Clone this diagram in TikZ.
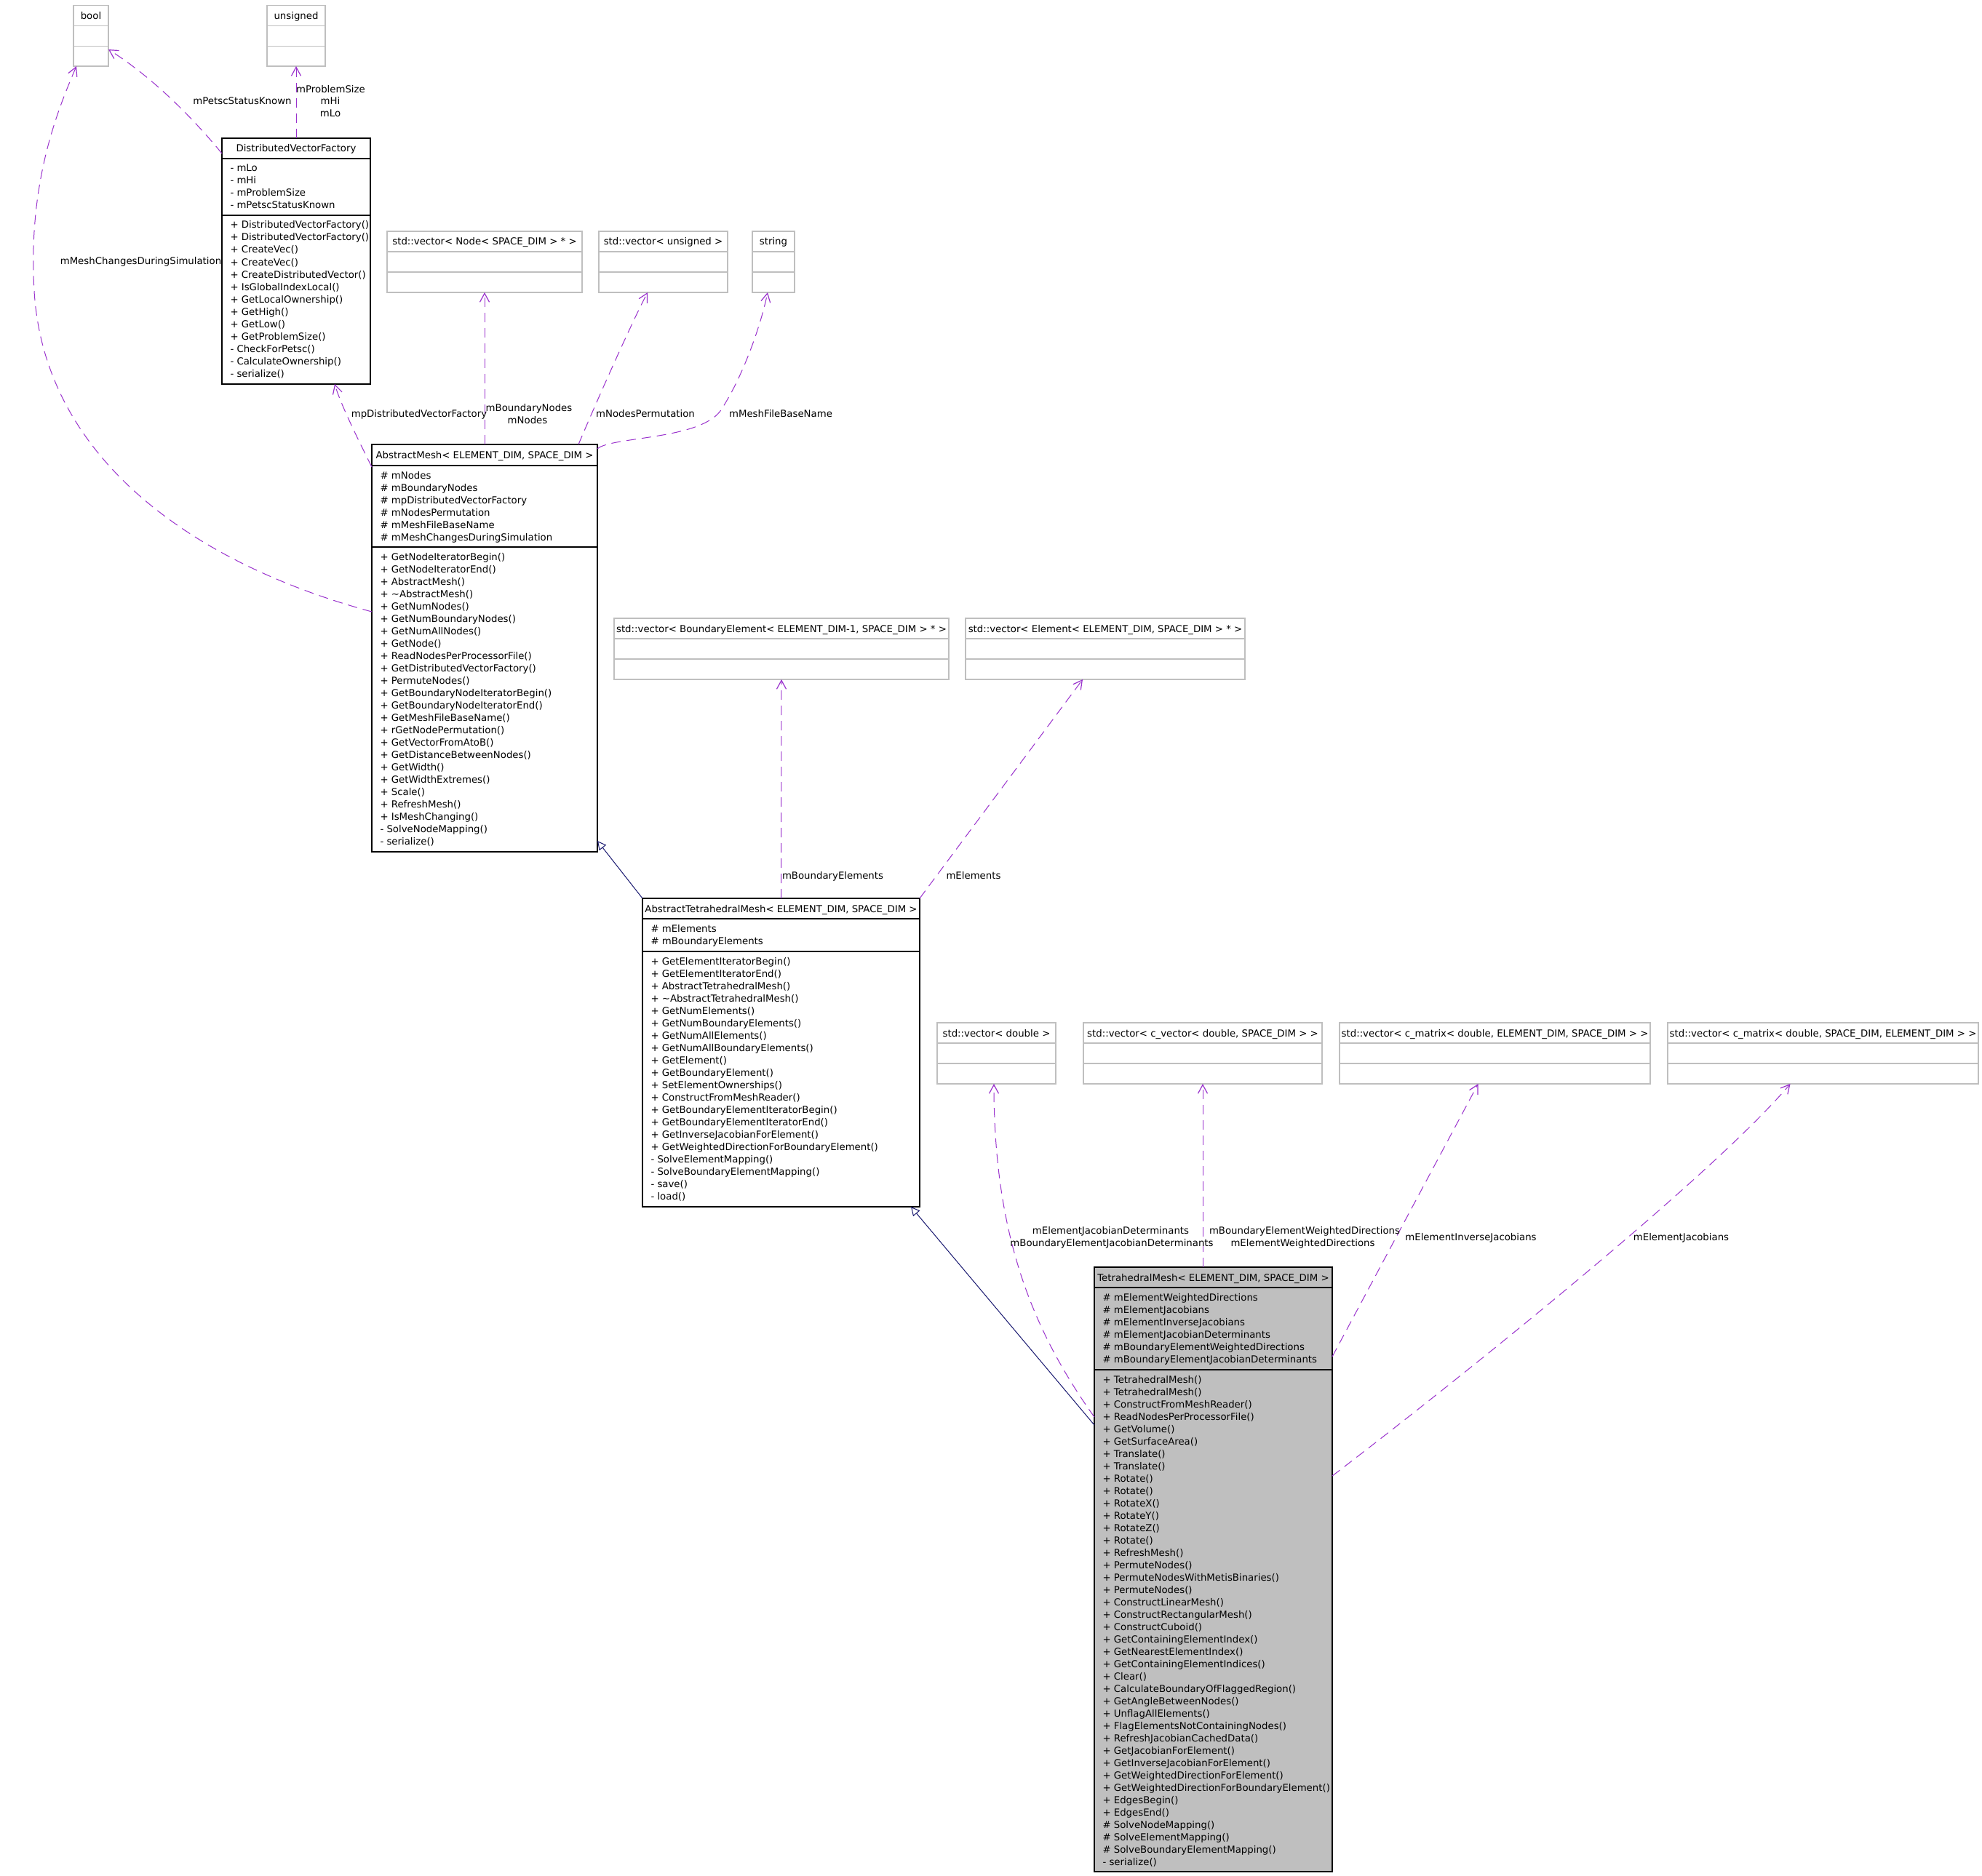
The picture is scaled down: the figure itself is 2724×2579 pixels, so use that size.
\documentclass[tikz,border=0pt]{standalone}
\usepackage{fontspec}
\setmainfont{DejaVu Sans}
\usetikzlibrary{arrows.meta,calc}
\definecolor{depc}{HTML}{9A32CD}
\definecolor{inhc}{HTML}{191970}
\definecolor{boxgray}{HTML}{BFBFBF}
\tikzset{
  lbl/.style={font=\fontsize{13.3}{17}\selectfont, inner sep=0pt, outer sep=0pt, text=black},
  clsbox/.style={draw=black, line width=1.5pt, fill=white, inner sep=0pt, outer sep=0pt},
  tmbox/.style={draw=black, line width=1.5pt, fill=boxgray, inner sep=0pt, outer sep=0pt},
  typebox/.style={draw=boxgray, line width=1.5pt, fill=white, inner sep=0pt, outer sep=0pt},
  dep/.style={draw=depc, line width=1pt, dash pattern=on 13pt off 8pt, -{Straight Barb[length=12pt,width=13pt,line width=1.2pt]}},
  inh/.style={draw=inhc, line width=1pt, -{Triangle[open,length=12pt,width=12pt,fill=white]}},
}
% name, style, x, y, w, h, divider1, divider2, title
\newcommand\mkclass[9]{%
  \node[#2, minimum width=#5pt, minimum height=#6pt, anchor=north west] (#1) at (#3,#4) {};
  \draw[#2] ([yshift=-#7pt]#1.north west) -- ([yshift=-#7pt]#1.north east);
  \draw[#2] ([yshift=-#8pt]#1.north west) -- ([yshift=-#8pt]#1.north east);
  \node[lbl, anchor=base] (#1t) at ([yshift=-19pt]#1.north) {#9};
}
% prefix, x, first baseline, list
\newcommand\mklines[4]{%
  \foreach \itemtext [count=\i] in {#4} {\node[lbl, anchor=base west] (#1\i) at (#2, #3+17*\i-17) {\itemtext};}
}
\begin{document}
\begin{tikzpicture}[x=1pt,y=-1pt]
\useasboundingbox (0,0) rectangle (2724,2579);
\fill[white] (0,0) rectangle (2724,2579);

% type boxes
\mkclass{bool}{typebox}{101}{7.5}{48}{83.5}{28}{56}{bool}
\mkclass{unsg}{typebox}{367}{7.5}{80}{83.5}{28}{56}{unsigned}
\mkclass{nv}{typebox}{532}{318}{268}{84}{28}{56}{std::vector< Node< SPACE\_DIM > * >}
\mkclass{uv}{typebox}{823}{318}{177}{84}{28}{56}{std::vector< unsigned >}
\mkclass{str}{typebox}{1034}{318}{58}{84}{28}{56}{string}
\mkclass{bev}{typebox}{844}{850}{460}{84}{28}{56}{std::vector< BoundaryElement< ELEMENT\_DIM-1, SPACE\_DIM > * >}
\mkclass{ev}{typebox}{1327}{850}{384}{84}{28}{56}{std::vector< Element< ELEMENT\_DIM, SPACE\_DIM > * >}
\mkclass{dv}{typebox}{1288}{1406}{163}{84}{28}{56}{std::vector< double >}
\mkclass{cv}{typebox}{1489}{1406}{328}{84}{28}{56}{std::vector< c\_vector< double, SPACE\_DIM > >}
\mkclass{cmA}{typebox}{1841}{1406}{427}{84}{28}{56}{std::vector< c\_matrix< double, ELEMENT\_DIM, SPACE\_DIM > >}
\mkclass{cmB}{typebox}{2292}{1406}{427}{84}{28}{56}{std::vector< c\_matrix< double, SPACE\_DIM, ELEMENT\_DIM > >}

% DistributedVectorFactory
\mkclass{dvf}{clsbox}{305}{190}{204}{338}{28}{106}{DistributedVectorFactory}
\mklines{dvfa}{316.5}{236}{- mLo, - mHi, - mProblemSize, - mPetscStatusKnown}
\mklines{dvfm}{316.5}{314}{+ DistributedVectorFactory(), + DistributedVectorFactory(), + CreateVec(), + CreateVec(), + CreateDistributedVector(), + IsGlobalIndexLocal(), + GetLocalOwnership(), + GetHigh(), + GetLow(), + GetProblemSize(), - CheckForPetsc(), - CalculateOwnership(), - serialize()}

% AbstractMesh
\mkclass{am}{clsbox}{511}{611}{310}{560}{29}{141}{AbstractMesh< ELEMENT\_DIM, SPACE\_DIM >}
\mklines{ama}{522.5}{658}{\# mNodes, \# mBoundaryNodes, \# mpDistributedVectorFactory, \# mNodesPermutation, \# mMeshFileBaseName, \# mMeshChangesDuringSimulation}
\mklines{amm}{522.5}{770}{+ GetNodeIteratorBegin(), + GetNodeIteratorEnd(), + AbstractMesh(), + \textasciitilde{}AbstractMesh(), + GetNumNodes(), + GetNumBoundaryNodes(), + GetNumAllNodes(), + GetNode(), + ReadNodesPerProcessorFile(), + GetDistributedVectorFactory(), + PermuteNodes(), + GetBoundaryNodeIteratorBegin(), + GetBoundaryNodeIteratorEnd(), + GetMeshFileBaseName(), + rGetNodePermutation(), + GetVectorFromAtoB(), + GetDistanceBetweenNodes(), + GetWidth(), + GetWidthExtremes(), + Scale(), + RefreshMesh(), + IsMeshChanging(), - SolveNodeMapping(), - serialize()}

% AbstractTetrahedralMesh
\mkclass{atm}{clsbox}{883}{1235}{381}{424}{28}{73}{AbstractTetrahedralMesh< ELEMENT\_DIM, SPACE\_DIM >}
\mklines{atma}{894.5}{1281}{\# mElements, \# mBoundaryElements}
\mklines{atmm}{894.5}{1326}{+ GetElementIteratorBegin(), + GetElementIteratorEnd(), + AbstractTetrahedralMesh(), + \textasciitilde{}AbstractTetrahedralMesh(), + GetNumElements(), + GetNumBoundaryElements(), + GetNumAllElements(), + GetNumAllBoundaryElements(), + GetElement(), + GetBoundaryElement(), + SetElementOwnerships(), + ConstructFromMeshReader(), + GetBoundaryElementIteratorBegin(), + GetBoundaryElementIteratorEnd(), + GetInverseJacobianForElement(), + GetWeightedDirectionForBoundaryElement(), - SolveElementMapping(), - SolveBoundaryElementMapping(), - save(), - load()}

% TetrahedralMesh
\mkclass{tm}{tmbox}{1504}{1742}{327}{831}{28}{141}{TetrahedralMesh< ELEMENT\_DIM, SPACE\_DIM >}
\mklines{tma}{1515.5}{1788}{\# mElementWeightedDirections, \# mElementJacobians, \# mElementInverseJacobians, \# mElementJacobianDeterminants, \# mBoundaryElementWeightedDirections, \# mBoundaryElementJacobianDeterminants}
\mklines{tmm}{1515.5}{1901}{+ TetrahedralMesh(), + TetrahedralMesh(), + ConstructFromMeshReader(), + ReadNodesPerProcessorFile(), + GetVolume(), + GetSurfaceArea(), + Translate(), + Translate(), + Rotate(), + Rotate(), + RotateX(), + RotateY(), + RotateZ(), + Rotate(), + RefreshMesh(), + PermuteNodes(), + PermuteNodesWithMetisBinaries(), + PermuteNodes(), + ConstructLinearMesh(), + ConstructRectangularMesh(), + ConstructCuboid(), + GetContainingElementIndex(), + GetNearestElementIndex(), + GetContainingElementIndices(), + Clear(), + CalculateBoundaryOfFlaggedRegion(), + GetAngleBetweenNodes(), + UnflagAllElements(), + FlagElementsNotContainingNodes(), + RefreshJacobianCachedData(), + GetJacobianForElement(), + GetInverseJacobianForElement(), + GetWeightedDirectionForElement(), + GetWeightedDirectionForBoundaryElement(), + EdgesBegin(), + EdgesEnd(), \# SolveNodeMapping(), \# SolveElementMapping(), \# SolveBoundaryElementMapping(), - serialize()}

% connectors
\draw[dep] ([yshift=-21pt]dvf.north west) .. controls (255,150) and (200,100) .. ([yshift=-18.75pt]bool.east);
\draw[dep] (dvf.north) -- (unsg.south);
\draw[dep] ([yshift=50pt]am.west) .. controls (250,770) and (60,620) .. (47,400) .. controls (38,250) and (80,150) .. ([xshift=-20pt]bool.south);
\draw[dep] ([yshift=-31pt]am.north west) .. controls (490,600) and (468,555) .. ([xshift=53pt]dvf.south);
\draw[dep] (am.north) -- (nv.south);
\draw[dep] ([xshift=-26pt]am.north east) .. controls (825,540) and (870,440) .. ([xshift=-21.5pt]uv.south);
\draw[dep] ([yshift=-6pt]am.north east) .. controls (840,600) and (960,605) .. (990,565) .. controls (1020,520) and (1045,450) .. ([xshift=-8pt]str.south);
\draw[inh] (atm.north west) -- ([yshift=15pt]am.south east);
\draw[dep] (atm.north) -- (bev.south);
\draw[dep] (atm.north east) -- ([xshift=-31pt]ev.south);
\draw[inh] ([yshift=198.5pt]tm.west) -- ([xshift=-12pt]atm.south east);
\draw[dep] ([yshift=209.5pt]tm.west) .. controls (1420,1830) and (1366,1700) .. ([xshift=-3.5pt]dv.south);
\draw[dep] (tm.north -| cv.south) -- (cv.south);
\draw[dep] ([yshift=292.5pt]tm.east) -- ([xshift=-23pt]cmA.south);
\draw[dep] ([yshift=128.5pt]tm.east) .. controls (2000,1900) and (2350,1620) .. ([xshift=-45pt]cmB.south);

% connector labels
\node[lbl, anchor=base] (l1) at (333,144) {mPetscStatusKnown};
\node[lbl, anchor=base] (l2a) at (454.5,127.5) {mProblemSize};
\node[lbl, anchor=base] (l2b) at (454,144) {mHi};
\node[lbl, anchor=base] (l2c) at (454,161) {mLo};
\node[lbl, anchor=base] (l3) at (193.5,363) {mMeshChangesDuringSimulation};
\node[lbl, anchor=base] (l4) at (576,573) {mpDistributedVectorFactory};
\node[lbl, anchor=base] (l5a) at (727,565) {mBoundaryNodes};
\node[lbl, anchor=base] (l5b) at (725,582) {mNodes};
\node[lbl, anchor=base] (l6) at (887,573) {mNodesPermutation};
\node[lbl, anchor=base] (l7) at (1073,573) {mMeshFileBaseName};
\node[lbl, anchor=base] (l9) at (1144.5,1208) {mBoundaryElements};
\node[lbl, anchor=base] (l10) at (1338,1208) {mElements};
\node[lbl, anchor=base] (l12a) at (1526.5,1696) {mElementJacobianDeterminants};
\node[lbl, anchor=base] (l12b) at (1528,1713) {mBoundaryElementJacobianDeterminants};
\node[lbl, anchor=base] (l13a) at (1793,1696) {mBoundaryElementWeightedDirections};
\node[lbl, anchor=base] (l13b) at (1790.5,1713) {mElementWeightedDirections};
\node[lbl, anchor=base] (l14) at (2021.5,1705) {mElementInverseJacobians};
\node[lbl, anchor=base] (l15) at (2310.5,1705) {mElementJacobians};
\end{tikzpicture}
\end{document}
